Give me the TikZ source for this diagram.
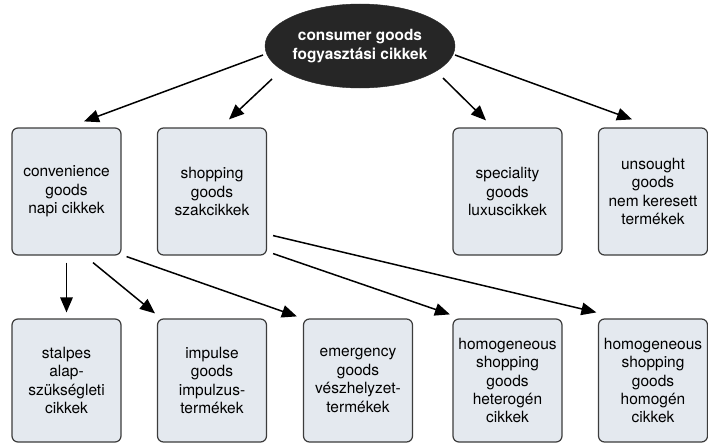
\documentclass[tikz,border=0pt]{standalone}
\usepackage{fontspec}
\setmainfont{TeX Gyre Heros}
\usetikzlibrary{arrows.meta,calc,shapes.geometric}
\definecolor{boxfill}{HTML}{E4E9EF}
\definecolor{boxline}{HTML}{3C3C3C}
\definecolor{rootfill}{HTML}{262626}
\begin{document}
\begin{tikzpicture}[x=1pt,y=-1pt,
  catbox/.style={draw=boxline,line width=1.2pt,fill=boxfill,rounded corners=6pt,
    minimum width=109pt,inner sep=0pt,align=center,
    font=\fontsize{15.5}{18.4}\selectfont},
  toprow/.style={catbox,minimum height=127pt},
  botrow/.style={catbox,minimum height=123pt},
  rootnode/.style={ellipse,fill=rootfill,draw=rootfill,minimum width=190pt,minimum height=84pt,
    inner sep=-4pt,text=white,font=\bfseries\fontsize{15.4}{19}\selectfont},
  arr/.style={line width=1.5pt,-{Triangle[length=15pt,width=12.5pt]}}]
\useasboundingbox[fill=white] (0,0) rectangle (708,444);

\node[rootnode] (root) at (360,46) {\raisebox{-5pt}{\begin{tabular}{@{}c@{}}consumer goods\\fogyasztási cikkek\end{tabular}}};

\node[toprow] (c1) at (66.5,191.5) {convenience\\goods\\napi cikkek};
\node[toprow] (c2) at (212,191.5) {shopping\\goods\\szakcikkek};
\node[toprow] (c3) at (507.5,191.5) {speciality\\goods\\luxuscikkek};
\node[toprow] (c4) at (653,191.5) {unsought\\goods\\nem keresett\\termékek};

\node[botrow] (b1) at (66.5,380.5) {stalpes\\alap-\\szükségleti\\cikkek};
\node[botrow] (b2) at (212,380.5) {impulse\\goods\\impulzus-\\termékek};
\node[botrow] (b3) at (358,380.5) {emergency\\goods\\vészhelyzet-\\termékek};
\node[botrow] (b4) at (507.5,380.5) {homogeneous\\shopping\\goods\\heterogén\\cikkek};
\node[botrow] (b5) at (653,380.5) {homogeneous\\shopping\\goods\\homogén\\cikkek};

\draw[arr] ($(root.center)+(-97,9)$) -- ($(c1.north)+(17.5,-6)$);
\draw[arr] ($(root.center)+(-88,33)$) -- ($(c2.north)+(17,-8)$);
\draw[arr] ($(root.center)+(83,32)$) -- ($(c3.north)+(-21.5,-7)$);
\draw[arr] ($(root.center)+(95,9)$) -- ($(c4.north)+(-21,-8)$);

\draw[arr] ($(c1.south)+(0,7)$) -- ($(b1.north)+(0,-6)$);
\draw[arr] ($(c1.south)+(26.5,7)$) -- ($(b2.north)+(-57,-5)$);
\draw[arr] ($(c1.south east)+(5,1)$) -- ($(b3.north west)+(-6,-2)$);
\draw[arr] ($(c2.south east)+(6,-20)$) -- ($(b5.north west)+(-1.5,-6)$);
\draw[arr] ($(c2.south east)+(6,-2)$) -- ($(b4.north west)+(-2.5,-4)$);
\end{tikzpicture}
\end{document}
